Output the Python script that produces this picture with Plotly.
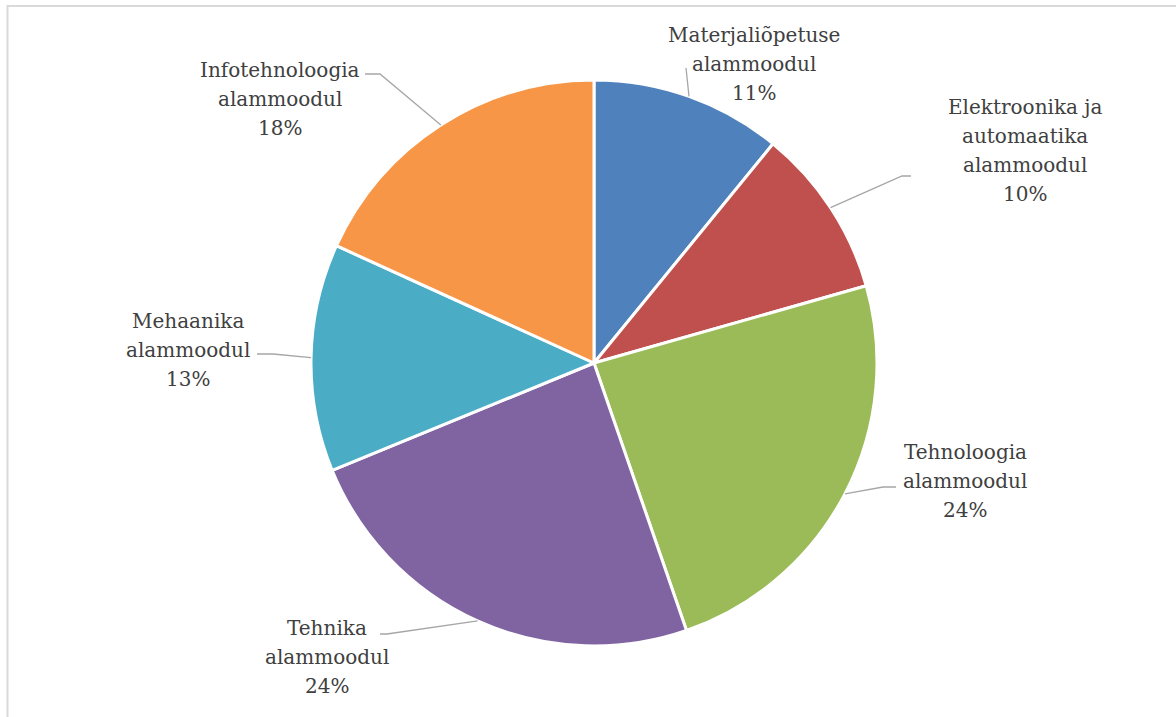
import math
import plotly.graph_objects as go

# ---- data ----
categories = [
    "Materjaliõpetuse alammoodul",
    "Elektroonika ja automaatika alammoodul",
    "Tehnoloogia alammoodul",
    "Tehnika alammoodul",
    "Mehaanika alammoodul",
    "Infotehnoloogia alammoodul",
]
values = [10.9, 9.7, 24.1, 24.1, 13.0, 18.2]
colors = ["#4F81BD", "#C0504D", "#9BBB59", "#8064A2", "#4BACC6", "#F79646"]

# label line breaks as in the original chart
label_lines = [
    ["Materjaliõpetuse", "alammoodul"],
    ["Elektroonika ja", "automaatika", "alammoodul"],
    ["Tehnoloogia", "alammoodul"],
    ["Tehnika", "alammoodul"],
    ["Mehaanika", "alammoodul"],
    ["Infotehnoloogia", "alammoodul"],
]

# ---- layout (pixels) ----
W, H = 1176, 717
CX, CY, R = 594, 363, 283
LINE_H = 29
# first-line centre of each label
label_pos = [(754, 35), (1025, 107), (965, 452), (327, 628), (188, 321), (280, 70)]
# leader line: elbow point, end point (near label)
leader_pts = [
    ((686, 68), (686, 68)),
    ((902, 176), (911, 176)),
    ((883, 487), (896, 487)),
    ((387, 634), (380, 634)),
    ((273, 354), (257, 354)),
    ((380, 74), (365, 74)),
]


def px(x):
    return x / W


def py(y):
    return 1 - y / H


fig = go.Figure(
    go.Pie(
        labels=categories,
        values=values,
        sort=False,
        direction="clockwise",
        rotation=0,
        textinfo="none",
        hoverinfo="label+percent",
        marker=dict(colors=colors, line=dict(color="white", width=3)),
        domain=dict(x=[px(CX - R), px(CX + R)], y=[py(CY + R), py(CY - R)]),
        showlegend=False,
    )
)

total = sum(values)
annotations = []
shapes = []
cum = 0.0
for i, v in enumerate(values):
    theta = 2 * math.pi * (cum + v / 2) / total
    cum += v
    ex = CX + R * math.sin(theta)
    ey = CY - R * math.cos(theta)
    (bx, by), (tx, ty) = leader_pts[i]
    shapes.append(
        dict(
            type="path",
            xref="paper",
            yref="paper",
            path=f"M {px(ex)},{py(ey)} L {px(bx)},{py(by)} L {px(tx)},{py(ty)}",
            line=dict(color="#A6A6A6", width=1.3),
        )
    )
    pct = f"{round(v / total * 100)}%"
    lines = label_lines[i] + [pct]
    lx, ly = label_pos[i]
    for k, t in enumerate(lines):
        annotations.append(
            dict(
                text=t,
                x=px(lx),
                y=py(ly + k * LINE_H),
                xref="paper",
                yref="paper",
                xanchor="center",
                yanchor="middle",
                showarrow=False,
                font=dict(family="DejaVu Serif", size=20, color="#404040"),
            )
        )

# chart frame (only top and left edges visible in the view)
shapes.append(
    dict(
        type="rect",
        xref="paper",
        yref="paper",
        x0=px(7.5),
        x1=1.05,
        y0=-0.05,
        y1=py(6),
        line=dict(color="#D9D9D9", width=2),
        layer="below",
    )
)

fig.update_layout(
    width=W,
    height=H,
    margin=dict(l=0, r=0, t=0, b=0),
    paper_bgcolor="white",
    plot_bgcolor="white",
    annotations=annotations,
    shapes=shapes,
)

fig.write_html("out.html")
